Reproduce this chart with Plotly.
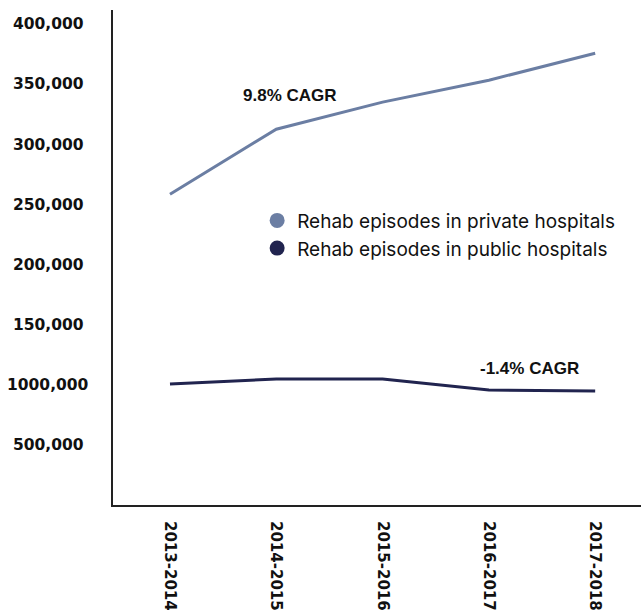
import plotly.graph_objects as go

# Financial years on the x axis
years = ["2013-2014", "2014-2015", "2015-2016", "2016-2017", "2017-2018"]

# Rehabilitation episodes per year
private_episodes = [258700, 312800, 335300, 353600, 376000]
public_episodes = [100700, 104800, 104800, 95700, 94800]

# Y-axis ticks and the labels printed beside them
y_tickvals = [50000, 100000, 150000, 200000, 250000, 300000, 350000, 400000]
y_ticktext = ["500,000", "1000,000", "150,000", "200,000", "250,000",
              "300,000", "350,000", "400,000"]

private_name = "Rehab episodes in private hospitals"
public_name = "Rehab episodes in public hospitals"
private_cagr = "9.8% CAGR"
public_cagr = "-1.4% CAGR"

private_color = "#6b7ea3"
public_color = "#21244f"
axis_color = "#222222"
bold_font = "Liberation Sans"
tick_font = "DejaVu Sans"

fig = go.Figure()

fig.add_trace(go.Scatter(
    x=years, y=private_episodes, mode="lines",
    line=dict(color=private_color, width=3),
    showlegend=False, hoverinfo="skip",
))
fig.add_trace(go.Scatter(
    x=years, y=public_episodes, mode="lines",
    line=dict(color=public_color, width=3),
    showlegend=False, hoverinfo="skip",
))

# Legend entries drawn as round markers
for name, color in [(private_name, private_color), (public_name, public_color)]:
    fig.add_trace(go.Scatter(
        x=[None], y=[None], mode="markers", name=name,
        marker=dict(color=color, size=15, symbol="circle"),
    ))

fig.add_annotation(
    x=1.13, y=341000, xref="x", yref="y", text="<b>%s</b>" % private_cagr,
    showarrow=False, font=dict(family=bold_font, size=17, color="#111111"),
)
fig.add_annotation(
    x=3.38, y=114000, xref="x", yref="y", text="<b>%s</b>" % public_cagr,
    showarrow=False, font=dict(family=bold_font, size=17, color="#111111"),
)

# Y tick labels, centred in the left margin
for val, txt in zip(y_tickvals, y_ticktext):
    fig.add_annotation(
        x=-0.123, y=val, xref="paper", yref="y", xanchor="center",
        yanchor="middle", text="<b>%s</b>" % txt, showarrow=False,
        font=dict(family=tick_font, size=15.5, color="#111111"),
    )

fig.update_layout(
    width=641, height=615,
    margin=dict(l=113, r=0, t=10, b=110),
    paper_bgcolor="white", plot_bgcolor="white",
    legend=dict(
        x=0.273, y=0.613, xanchor="left", yanchor="top",
        bgcolor="rgba(0,0,0,0)",
        font=dict(family="Inter", size=19, color="#111111"),
        itemclick=False, itemdoubleclick=False,
    ),
    xaxis=dict(
        range=[-0.536, 4.431],
        showgrid=False, zeroline=False,
        showline=True, linecolor=axis_color, linewidth=2,
        ticks="", tickangle=90, ticklabelstandoff=11,
        tickfont=dict(family=tick_font, size=15, color="#111111"),
        tickprefix="<b>", ticksuffix="</b>",
        fixedrange=True,
    ),
    yaxis=dict(
        range=[0, 412000],
        showgrid=False, zeroline=False,
        showline=True, linecolor=axis_color, linewidth=2,
        ticks="", showticklabels=False,
        fixedrange=True,
    ),
)

fig.write_html("out.html", config={"displayModeBar": False})
